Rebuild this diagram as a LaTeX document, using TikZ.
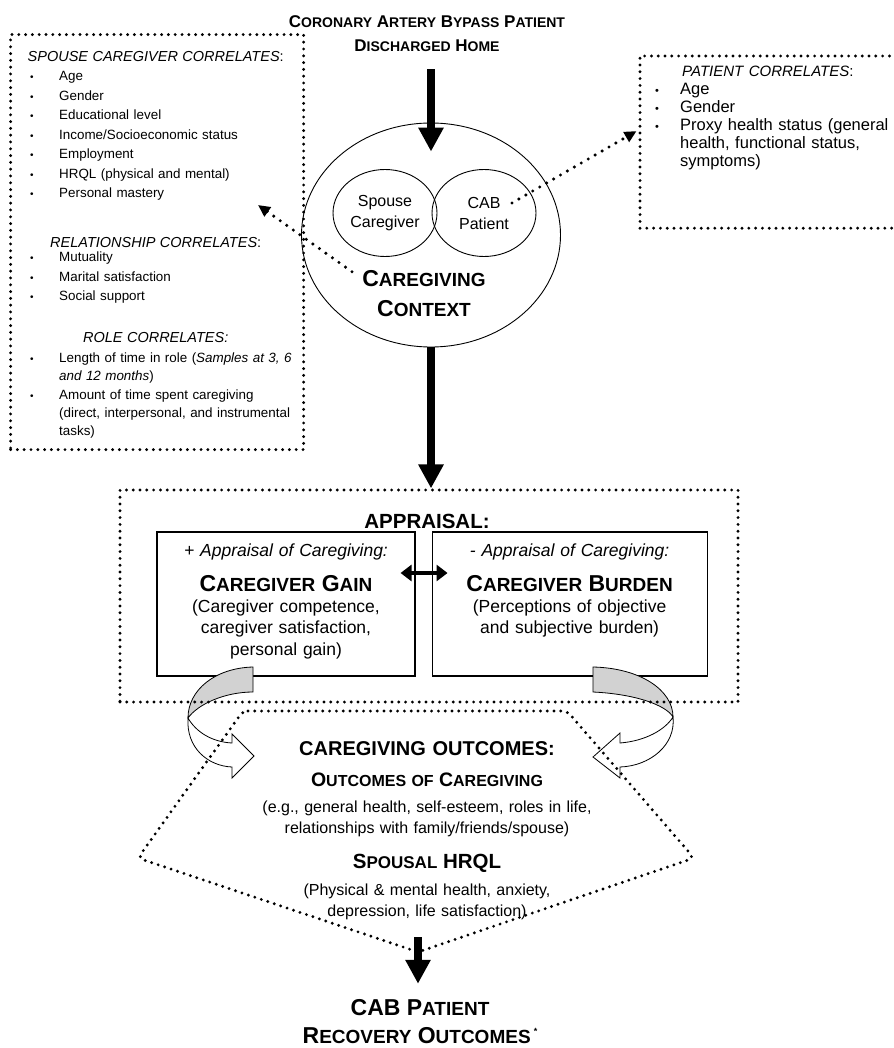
\documentclass[tikz,border=0pt]{standalone}
\usepackage{fontspec}
\setmainfont{Liberation Sans}
\usetikzlibrary{positioning,arrows.meta,shapes.geometric}

% fake small caps: first letters large, the rest smaller
\newcommand{\sctitle}[2]{{\fontsize{17}{24}\selectfont#1}{\fontsize{14}{24}\selectfont#2}}
\newcommand{\sclarge}[2]{{\fontsize{23}{30}\selectfont#1}{\fontsize{19}{30}\selectfont#2}}
\newcommand{\scmid}[2]{{\fontsize{19.5}{22}\selectfont#1}{\fontsize{16}{22}\selectfont#2}}
\newcommand{\scbig}[2]{{\fontsize{20.5}{22}\selectfont#1}{\fontsize{17}{22}\selectfont#2}}
% bullet lines of the correlate boxes
\newcommand{\corrhead}[1]{\makebox[\linewidth]{\fontsize{14.5}{19.5}\selectfont#1}}
\newcommand{\lbul}[1]{\hspace*{9pt}\makebox[29pt][l]{\fontsize{10}{12}\selectfont\textbullet}\mbox{#1}}
\newcommand{\lcont}[1]{\hspace*{38pt}\mbox{#1}}
\newcommand{\rbul}[1]{\hspace*{11pt}\makebox[25pt][l]{\fontsize{11}{12}\selectfont\textbullet}\mbox{#1}}
\newcommand{\rcont}[1]{\hspace*{36pt}\mbox{#1}}

\begin{document}
\begin{tikzpicture}[x=1pt, y=-1pt,
    dotline/.style={line width=3.2pt, dash pattern=on 0pt off 6.8pt, line cap=round},
    dotarrow/.style={line width=3.4pt, dash pattern=on 0pt off 8pt, line cap=round, -{Triangle[length=12pt,width=11pt]}},
    bigarrow/.style={line width=8pt, -{Triangle[length=24pt,width=24pt]}},
    dblarrow/.style={line width=4.5pt, {Triangle[length=11pt,width=16pt]}-{Triangle[length=11pt,width=16pt]}},
    corrbox/.style={draw, dotline, rectangle, inner sep=0pt},
    apprbox/.style={draw, line width=1.1pt, rectangle, inner sep=0pt, minimum height=144pt},
    oval/.style={draw, ellipse, line width=0.9pt, inner sep=0pt, align=center},
    txt/.style={inner sep=0pt, align=center, text width=#1},
    txt/.default=360pt,
    backface/.style={fill=gray!35, draw, line width=0.8pt},
    frontface/.style={fill=white, draw, line width=0.8pt}
  ]
  \useasboundingbox (0,0) rectangle (893,1048);

  % top: patient discharged and caregiving context
  \node[txt, anchor=base, font=\fontsize{14}{24}\selectfont\bfseries] (title) at (427,28)
    {\sctitle{C}{ORONARY} \sctitle{A}{RTERY} \sctitle{B}{YPASS} \sctitle{P}{ATIENT}\\\sctitle{D}{ISCHARGED} \sctitle{H}{OME}};
  \node[oval, minimum width=259pt, minimum height=224pt] (context) at (431,235) {};
  \node[oval, minimum width=104pt, minimum height=87pt, font=\fontsize{16}{21}\selectfont] (spouse) at (385,213) {Spouse\\Caregiver};
  \node[oval, minimum width=104pt, minimum height=87pt, font=\fontsize{16}{21}\selectfont] (cab) at (484,213) {CAB\\Patient};
  \node[txt=160pt, anchor=base, font=\fontsize{19}{30}\selectfont\bfseries] (ctxlabel) at (424,287)
    {\sclarge{C}{AREGIVING}\\\sclarge{C}{ONTEXT}};

  % spouse caregiver correlates
  \node[corrbox, minimum width=293pt, minimum height=415pt, anchor=north west] (scbox) at (9,33) {};
  \node[txt=269pt, align=left, anchor=base west, font=\fontsize{13.4}{19.5}\selectfont] (sctext) at (21,62) {%
    \corrhead{\textit{SPOUSE CAREGIVER CORRELATES}:}\\[-0.5pt]
    \lbul{Age}\\
    \lbul{Gender}\\
    \lbul{Educational level}\\
    \lbul{Income/Socioeconomic status}\\
    \lbul{Employment}\\
    \lbul{HRQL (physical and mental)}\\
    \lbul{Personal mastery}\\[30.5pt]
    \corrhead{\textit{RELATIONSHIP CORRELATES}:}\\[-5.5pt]
    \lbul{Mutuality}\\
    \lbul{Marital satisfaction}\\
    \lbul{Social support}\\[22.5pt]
    \corrhead{\textit{ROLE CORRELATES:}}\\
    \lbul{Length of time in role (\textit{Samples at 3, 6}}\\[-1.2pt]
    \lcont{\textit{and 12 months})}\\[-1.2pt]
    \lbul{Amount of time spent caregiving}\\[-1.2pt]
    \lcont{(direct, interpersonal, and instrumental}\\[-1.2pt]
    \lcont{tasks)}};

  % patient correlates (box runs off the right edge)
  \node[corrbox, draw=none, minimum width=253pt, minimum height=169pt, anchor=north west] (ptbox) at (640,56) {};
  \draw[dotline] (ptbox.north east) -- (ptbox.north west) -- (ptbox.south west) -- (ptbox.south east);
  \node[txt=245pt, align=left, anchor=base west, font=\fontsize{16.5}{18}\selectfont] (pttext) at (644,77) {%
    \hspace*{38pt}{\fontsize{15}{18}\selectfont\textit{PATIENT CORRELATES}:}\\
    \rbul{Age}\\
    \rbul{Gender}\\
    \rbul{Proxy health status (general}\\
    \rcont{health, functional status,}\\
    \rcont{symptoms)}};

  \coordinate (scarrow) at (258,205);
  \draw[dotarrow] ([xshift=-72pt,yshift=-1pt]ctxlabel.north) -- (scarrow);
  \draw[dotarrow, shorten >=4pt] ([xshift=28pt,yshift=10pt]cab.center) -- ([yshift=13pt]ptbox.west);

  % appraisal
  \node[apprbox, minimum width=258pt] (gain) at (286,604) {};
  \node[apprbox, minimum width=275pt, right=16pt of gain] (burden) {};
  \node[txt=250pt, anchor=base, font=\fontsize{17.5}{21.5}\selectfont\itshape] (gainhd) at ([yshift=-25pt]gain.north) {+ Appraisal of Caregiving:};
  \node[txt=250pt, font=\fontsize{19}{24}\selectfont\bfseries, below=35pt of gainhd.base, anchor=base] (gainttl) {\sclarge{C}{AREGIVER} \sclarge{G}{AIN}};
  \node[txt=250pt, font=\fontsize{17.5}{21.5}\selectfont, below=21pt of gainttl.base, anchor=base] (gainbody)
    {(Caregiver competence,\\caregiver satisfaction,\\personal gain)};
  \node[txt=265pt, anchor=base, font=\fontsize{17.5}{21.5}\selectfont\itshape] (burdenhd) at ([yshift=-25pt]burden.north) {- Appraisal of Caregiving:};
  \node[txt=265pt, font=\fontsize{19}{24}\selectfont\bfseries, below=35pt of burdenhd.base, anchor=base] (burdenttl) {\sclarge{C}{AREGIVER} \sclarge{B}{URDEN}};
  \node[txt=265pt, font=\fontsize{17.5}{21.5}\selectfont, below=21pt of burdenttl.base, anchor=base] (burdenbody)
    {(Perceptions of objective\\and subjective burden)};
  \draw[dblarrow] ([xshift=-15pt,yshift=31pt]gain.east) -- ([xshift=16pt,yshift=31pt]burden.west);
  \node[txt, anchor=base, font=\fontsize{20.5}{24}\selectfont\bfseries] (apprlbl) at (427,528) {APPRAISAL:};

  % curved arrows from appraisal to outcomes
  \filldraw[backface] (253,667) .. controls (215,668) and (188,690) .. (188,718)
    .. controls (198,704) and (225,692) .. (253,692) -- cycle;
  \filldraw[frontface] (188,718) .. controls (186,748) and (208,766) .. (232,767) -- (232,778) -- (254,756)
    -- (232,734) -- (232,743) .. controls (212,742) and (196,732) .. (188,718) -- cycle;
  \filldraw[backface] (593,667) .. controls (640,668) and (673,690) .. (673,717)
    .. controls (666,705) and (635,694) .. (593,692) -- cycle;
  \filldraw[frontface] (673,717) .. controls (676,745) and (650,766) .. (620,767) -- (620,778) -- (593,757)
    -- (620,733) -- (620,743) .. controls (645,741) and (665,730) .. (673,717) -- cycle;

  \node[corrbox, minimum width=618pt, minimum height=212pt] (appr) at (429,596) {};
  \draw[bigarrow] (context.south) -- (context.south |- appr.north);
  \draw[bigarrow, shorten <=17pt] (context.north |- title.south) -- ([yshift=-29pt]context.north);

  % caregiving outcomes
  \coordinate (otl) at (243,711);
  \coordinate (otr) at (567,711);
  \coordinate (orr) at (694,858);
  \coordinate (obot) at (418,952);
  \coordinate (oll) at (138,858);
  \draw[dotline, rounded corners=5pt] (otl) -- (otr) -- (orr) -- (obot) -- (oll) -- cycle;
  \node[txt=400pt, anchor=base, font=\fontsize{20}{24}\selectfont\bfseries] (outhd) at (427,755) {CAREGIVING OUTCOMES:};
  \node[txt=400pt, font=\fontsize{16}{22}\selectfont\bfseries, below=31pt of outhd.base, anchor=base] (outsub)
    {\scmid{O}{UTCOMES OF} \scmid{C}{AREGIVING}};
  \node[txt=400pt, font=\fontsize{16}{21}\selectfont, below=26pt of outsub.base, anchor=base] (outeg)
    {(e.g., general health, self-esteem, roles in life,\\relationships with family/friends/spouse)};
  \node[txt=400pt, font=\fontsize{17}{22}\selectfont\bfseries, below=56pt of outeg.base, anchor=base] (hrql)
    {\scbig{S}{POUSAL} \scbig{HRQL}{}};
  \node[txt=400pt, font=\fontsize{16}{21}\selectfont, below=27pt of hrql.base, anchor=base] (hrqlbody)
    {(Physical \& mental health, anxiety,\\depression, life satisfaction)};

  % patient recovery
  \node[txt, anchor=base, font=\fontsize{19}{28}\selectfont\bfseries] (recov) at (420,1015)
    {\sclarge{CAB P}{ATIENT}\\\sclarge{R}{ECOVERY} \sclarge{O}{UTCOMES}\,\raisebox{9pt}{\fontsize{9}{9}\selectfont *}};
  \draw[bigarrow] ([yshift=15pt]obot) -- ([yshift=15pt]obot |- recov.north);
\end{tikzpicture}
\end{document}
